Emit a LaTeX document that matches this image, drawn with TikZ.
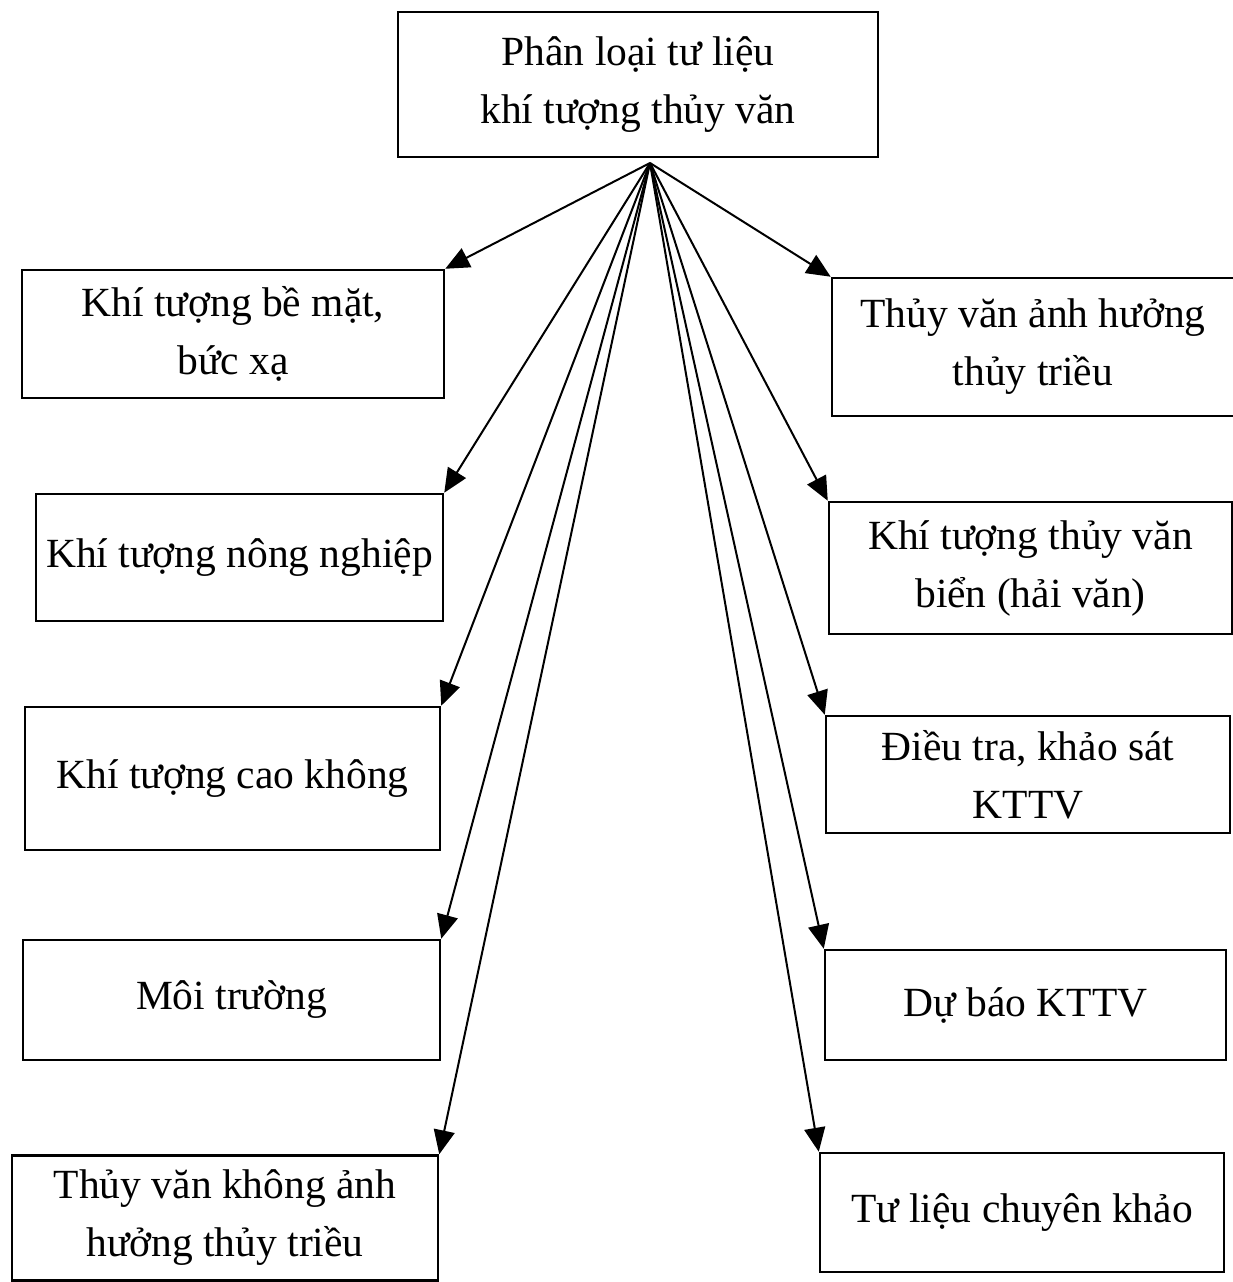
\documentclass[tikz,border=0pt]{standalone}
\usepackage{fontspec}
\setmainfont{Liberation Serif}
\usetikzlibrary{arrows.meta}
\begin{document}
\begin{tikzpicture}[x=1pt,y=-1pt,
  box/.style={draw,line width=2.5pt,inner sep=0pt,align=center,
    font=\fontsize{41.5}{58}\selectfont},
  conn/.style={line width=2pt,-{Triangle[length=24pt,width=21pt]}}]
\useasboundingbox (0,0) rectangle (1232,1282);
\node[box,minimum width=480pt,minimum height=145pt] (top) at (638,84.5) {Phân loại tư liệu\\khí tượng thủy văn};
\coordinate (o) at (650,163);
% left column
\node[box,minimum width=422pt,minimum height=128pt] (l1) at (233,334) {Khí tượng bề mặt,\\bức xạ};
\node[box,minimum width=407pt,minimum height=127pt] (l2) at (239.5,557.5) {Khí tượng nông nghiệp};
\node[box,minimum width=415pt,minimum height=143pt] (l3) at (232.5,778.5) {Khí tượng cao không};
\node[box,minimum width=417pt,minimum height=120pt] (l4) at (231.5,1000) {Môi trường};
\node[box,minimum width=426pt,minimum height=125pt] (l5) at (225,1218) {Thủy văn không ảnh\\hưởng thủy triều};
% right column
\node[box,minimum width=402pt,minimum height=138pt] (r1) at (1033,347) {Thủy văn ảnh hưởng\\thủy triều};
\node[box,minimum width=403pt,minimum height=132pt] (r2) at (1030.5,568) {Khí tượng thủy văn\\biển (hải văn)};
\node[box,minimum width=404pt,minimum height=117pt] (r3) at (1028,774.5) {Điều tra, khảo sát\\KTTV};
\node[box,minimum width=401pt,minimum height=110pt] (r4) at (1025.5,1005) {Dự báo KTTV};
\node[box,minimum width=404pt,minimum height=119pt] (r5) at (1022,1212.5) {Tư liệu chuyên khảo};
% connectors
\foreach \n in {l1,l2,l3,l4,l5} \draw[conn] (o) -- (\n.north east);
\foreach \n in {r1,r2,r3,r4,r5} \draw[conn] (o) -- (\n.north west);
\end{tikzpicture}
\end{document}
